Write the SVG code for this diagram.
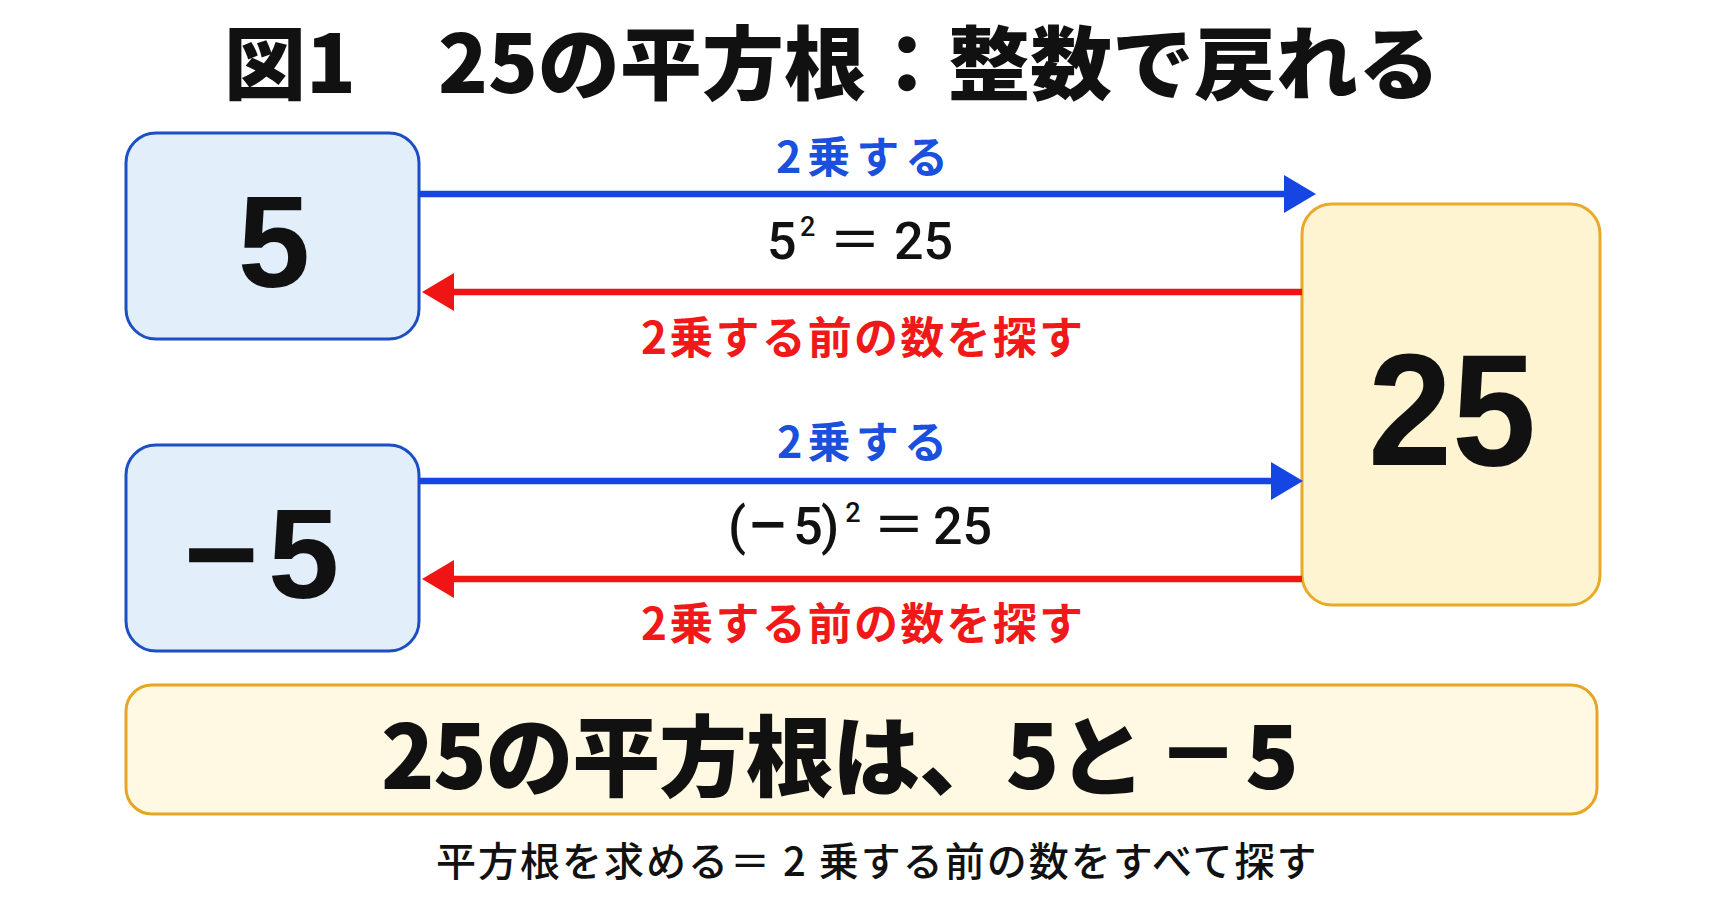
<svg xmlns="http://www.w3.org/2000/svg" width="1729" height="910" viewBox="0 0 1729 910">
  <style>
    .bg { fill: #ffffff; }
    .nodeBlue { fill: #E3EEFB; stroke: #1C4FC4; stroke-width: 3; }
    .nodeYellow { fill: #FFF4D2; stroke: #E8AA28; stroke-width: 3; }
    .summaryBox { fill: #FFF8E2; stroke: #E6A523; stroke-width: 3; }
    .num { font-family: "Liberation Sans", Arial, sans-serif; font-weight: 700; fill: #111111; }
    .jp { font-family: "Noto Sans CJK JP", "Noto Sans", sans-serif; }
    .title { font-size: 80px; font-weight: 900; fill: #111111; }
    .blueLabel { font-size: 43px; font-weight: 700; fill: #1A50DD; }
    .redLabel { font-size: 44px; font-weight: 700; fill: #F01818; }
    .eq { font-family: "Roboto", "Noto Sans CJK JP", sans-serif; font-weight: 500; fill: #111111; font-size: 52px; }
    .eqsym { font-family: "Noto Sans CJK JP", sans-serif; font-weight: 500; fill: #111111; font-size: 52px; }
    .eqminus { font-family: "Liberation Sans", Arial, sans-serif; font-weight: 700; fill: #111111; font-size: 52px; }
    .sup { font-family: "Roboto", "Noto Sans CJK JP", sans-serif; font-weight: 500; fill: #111111; font-size: 27px; }
    .summary { font-size: 88px; font-weight: 900; fill: #111111; }
    .summaryMinus { font-family: "Liberation Sans", Arial, sans-serif; font-size: 100px; font-weight: 700; fill: #111111; }
    .footer { font-size: 40px; font-weight: 500; fill: #111111; letter-spacing: 2px; }
    .lineBlue { stroke: #1546E4; stroke-width: 6.5; fill: none; }
    .lineRed { stroke: #F01414; stroke-width: 6.5; fill: none; }
  </style>
  <defs>
    <marker id="arrowBlue" markerUnits="userSpaceOnUse" viewBox="0 0 32 38" markerWidth="32" markerHeight="38" refX="24" refY="19" orient="auto">
      <path d="M0,0 L32,19 L0,38 Z" fill="#1546E4"/>
    </marker>
    <marker id="arrowRed" markerUnits="userSpaceOnUse" viewBox="0 0 32 38" markerWidth="32" markerHeight="38" refX="24" refY="19" orient="auto">
      <path d="M0,0 L32,19 L0,38 Z" fill="#F01414"/>
    </marker>
  </defs>

  <rect class="bg" x="0" y="0" width="1729" height="910"/>

  <g id="title">
    <text class="jp title" x="224" y="93" textLength="1216" lengthAdjust="spacingAndGlyphs">図1　25の平方根：整数で戻れる</text>
  </g>

  <g id="node-5">
    <rect class="nodeBlue" x="126" y="133" width="293" height="206" rx="30" ry="30"/>
    <text class="num" x="274" y="287" font-size="130" text-anchor="middle">5</text>
  </g>

  <g id="node-minus5">
    <rect class="nodeBlue" x="126" y="445" width="293" height="206" rx="30" ry="30"/>
    <text class="num" font-size="128" y="598"><tspan x="184">−</tspan><tspan x="268">5</tspan></text>
  </g>

  <g id="node-25">
    <rect class="nodeYellow" x="1302" y="204" width="298" height="401" rx="30" ry="30"/>
    <text class="num" x="1452" y="465" font-size="160" text-anchor="middle" textLength="168" lengthAdjust="spacingAndGlyphs">25</text>
  </g>

  <g id="connectors">
    <line class="lineBlue" x1="419" y1="194" x2="1308" y2="194" marker-end="url(#arrowBlue)"/>
    <line class="lineRed" x1="1302" y1="292" x2="430" y2="292" marker-end="url(#arrowRed)"/>
    <line class="lineBlue" x1="419" y1="481" x2="1295" y2="481" marker-end="url(#arrowBlue)"/>
    <line class="lineRed" x1="1302" y1="579" x2="430" y2="579" marker-end="url(#arrowRed)"/>

    <text class="jp blueLabel" x="862" y="173" text-anchor="middle" textLength="172" lengthAdjust="spacing">2乗する</text>
    <text class="jp redLabel" x="862" y="354" text-anchor="middle" textLength="442" lengthAdjust="spacing">2乗する前の数を探す</text>
    <text class="jp blueLabel" x="862" y="458" text-anchor="middle" textLength="170" lengthAdjust="spacing">2乗する</text>
    <text class="jp redLabel" x="862" y="640" text-anchor="middle" textLength="442" lengthAdjust="spacing">2乗する前の数を探す</text>

    <g id="eq1">
      <text class="eq" x="767" y="259">5</text>
      <text class="sup" x="800" y="236">2</text>
      <text class="eqsym" x="855" y="259" text-anchor="middle">＝</text>
      <text class="eq" x="953" y="259" text-anchor="end">25</text>
    </g>
    <g id="eq2">
      <text class="eq" x="728" y="544">(</text>
      <text class="eqminus" x="768" y="542" text-anchor="middle" textLength="36" lengthAdjust="spacingAndGlyphs">−</text>
      <text class="eq" x="808" y="544" text-anchor="middle">5</text>
      <text class="eq" x="821" y="544">)</text>
      <text class="sup" x="853" y="522" text-anchor="middle">2</text>
      <text class="eqsym" x="899" y="544" text-anchor="middle">＝</text>
      <text class="eq" x="992" y="544" text-anchor="end">25</text>
    </g>
  </g>

  <g id="summary">
    <rect class="summaryBox" x="126" y="685" width="1471" height="129" rx="26" ry="26"/>
    <text class="jp summary" x="381" y="789" textLength="765" lengthAdjust="spacing">25の平方根は、5と</text>
    <text class="summaryMinus" transform="translate(1198,786) scale(1.15,1)" x="0" y="0" text-anchor="middle">−</text>
    <text class="jp summary" x="1272" y="789" text-anchor="middle">5</text>
  </g>

  <g id="footer">
    <text class="jp footer" x="436" y="876">平方根を求める＝<tspan dx="11">2</tspan><tspan dx="11">乗する前の数をすべて探す</tspan></text>
  </g>
</svg>
